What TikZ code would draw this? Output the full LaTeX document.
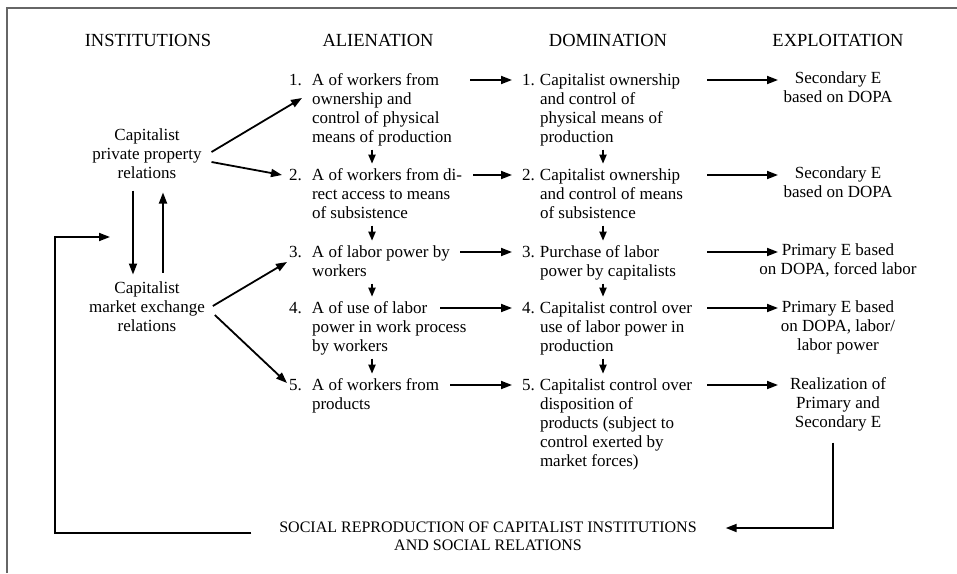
\documentclass[tikz,border=0pt]{standalone}
\usepackage{fontspec}
\setmainfont{Liberation Serif}
\usetikzlibrary{arrows.meta,calc}
\newcommand{\nA}[1]{\makebox[23pt][l]{#1}}
\newcommand{\nD}[1]{\makebox[18pt][l]{#1}}
\newenvironment{aitem}{\begin{tabular}[t]{@{}l@{}l@{}}}{\end{tabular}}
\newenvironment{ditem}{\begin{tabular}[t]{@{}l@{}p{157pt}@{}}}{\end{tabular}}
\newenvironment{ctext}{\begin{tabular}{@{}c@{}}}{\end{tabular}}
\begin{document}
\begin{tikzpicture}[x=1pt,y=-1pt,
  every node/.style={inner sep=0pt,outer sep=0pt},
  body/.style={font=\fontsize{17}{19}\selectfont},
  head/.style={font=\fontsize{18.5}{21}\selectfont,anchor=base},
  anode/.style={body,anchor=base west},
  dnode/.style={body,anchor=base west,outer xsep=10pt},
  enode/.style={body},
  srnode/.style={font=\fontsize{16}{18}\selectfont},
  arr/.style={line width=1.8pt,-{Triangle[length=11pt,width=8pt]}},
  varr/.style={line width=1.8pt,-{Triangle[length=9pt,width=7pt]},shorten <=2pt,shorten >=3pt},
  frame/.style={line width=1.2pt,black!60}]
\useasboundingbox (0,0) rectangle (957,573);
\fill[white] (0,0) rectangle (957,573);
\draw[frame] (7,573) -- (7,8) -- (957,8);

% column helpers
\coordinate (colA) at (372,0);
\coordinate (colD) at (603,0);
\coordinate (colE) at (778,0);

% headers
\node[head] (hI) at (148,46) {INSTITUTIONS};
\node[head] (hA) at (378,46) {ALIENATION};
\node[head] (hD) at (608,46) {DOMINATION};
\node[head] (hE) at (838,46) {EXPLOITATION};

% institutions
\node[body] (pp) at (147,156) {\begin{ctext}Capitalist\\private property\\relations\end{ctext}};
\node[body] (me) at (147,309) {\begin{ctext}Capitalist\\market exchange\\relations\end{ctext}};

% alienation
\node[anode] (a1) at (289,85) {\begin{aitem}\nA{1.}&A of workers from\\&ownership and\\&control of physical\\&means of production\end{aitem}};
\node[anode] (a2) at (289,180) {\begin{aitem}\nA{2.}&A of workers from di-\\&rect access to means\\&of subsistence\end{aitem}};
\node[anode] (a3) at (289,257) {\begin{aitem}\nA{3.}&A of labor power by\\&workers\end{aitem}};
\node[anode] (a4) at (289,313) {\begin{aitem}\nA{4.}&A of use of labor\\&power in work process\\&by workers\end{aitem}};
\node[anode] (a5) at (289,390) {\begin{aitem}\nA{5.}&A of workers from\\&products\end{aitem}};

% domination
\node[dnode] (d1) at (512,85) {\begin{ditem}\nD{1.}&Capitalist ownership\\&and control of\\&physical means of\\&production\end{ditem}};
\node[dnode] (d2) at (512,180) {\begin{ditem}\nD{2.}&Capitalist ownership\\&and control of means\\&of subsistence\end{ditem}};
\node[dnode] (d3) at (512,257) {\begin{ditem}\nD{3.}&Purchase of labor\\&power by capitalists\end{ditem}};
\node[dnode] (d4) at (512,313) {\begin{ditem}\nD{4.}&Capitalist control over\\&use of labor power in\\&production\end{ditem}};
\node[dnode] (d5) at (512,390) {\begin{ditem}\nD{5.}&Capitalist control over\\&disposition of\\&products (subject to\\&control exerted by\\&market forces)\end{ditem}};

% exploitation
\node[enode] (e1) at (838,89) {\begin{ctext}Secondary E\\based on DOPA\end{ctext}};
\node[enode] (e2) at (838,184) {\begin{ctext}Secondary E\\based on DOPA\end{ctext}};
\node[enode] (e3) at (838,261) {\begin{ctext}Primary E based\\on DOPA, forced labor\end{ctext}};
\node[enode] (e4) at (838,327.5) {\begin{ctext}Primary E based\\on DOPA, labor/\\labor power\end{ctext}};
\node[enode] (e5) at (838,405) {\begin{ctext}Realization of\\Primary and\\Secondary E\end{ctext}};

% social reproduction
\node[srnode] (sr) at (488,538) {\begin{ctext}SOCIAL REPRODUCTION OF CAPITALIST INSTITUTIONS\\AND SOCIAL RELATIONS\end{ctext}};

% institutions -> alienation
\draw[arr] ($(pp.east)+(10,-4)$) -- ($(a1.base west)+(13,13)$);
\draw[arr] ($(pp.east)+(10,6)$) -- ($(a2.base west)+(-7,-5)$);
\draw[arr] ($(me.east)+(8,-3)$) -- ($(a3.base west)+(-2,5)$);
\draw[arr] ($(me.east)+(10,6)$) -- ($(a5.base west)+(-2,-7)$);

% between institutions
\draw[arr] ($(pp.south)+(-14,6)$) -- ($(me.north)+(-14,-6)$);
\draw[arr] ($(me.north)+(16,-8)$) -- ($(pp.south)+(16,8)$);

% alienation verticals
\draw[varr] (a1.south -| colA) -- (a2.north -| colA);
\draw[varr] (a2.south -| colA) -- (a3.north -| colA);
\draw[varr] (a3.south -| colA) -- (a4.north -| colA);
\draw[varr] (a4.south -| colA) -- (a5.north -| colA);

% domination verticals
\draw[varr] (d1.south -| colD) -- (d2.north -| colD);
\draw[varr] (d2.south -| colD) -- (d3.north -| colD);
\draw[varr] (d3.south -| colD) -- (d4.north -| colD);
\draw[varr] (d4.south -| colD) -- (d5.north -| colD);

% alienation -> domination
\draw[arr] ($(a1.base west)+(181,-5)$) coordinate (s1) -- (s1 -| d1.west);
\draw[arr] ($(a2.base west)+(184,-5)$) coordinate (s2) -- (s2 -| d2.west);
\draw[arr] ($(a3.base west)+(171,-5)$) coordinate (s3) -- (s3 -| d3.west);
\draw[arr] ($(a4.base west)+(151,-5)$) coordinate (s4) -- (s4 -| d4.west);
\draw[arr] ($(a5.base west)+(161,-5)$) coordinate (s5) -- (s5 -| d5.west);

% domination -> exploitation
\draw[arr] ($(d1.base east)+(0,-5)$) coordinate (t1) -- (t1 -| colE);
\draw[arr] ($(d2.base east)+(0,-5)$) coordinate (t2) -- (t2 -| colE);
\draw[arr] ($(d3.base east)+(0,-5)$) coordinate (t3) -- (t3 -| colE);
\draw[arr] ($(d4.base east)+(0,-5)$) coordinate (t4) -- (t4 -| colE);
\draw[arr] ($(d5.base east)+(0,-5)$) coordinate (t5) -- (t5 -| colE);

% feedback loops
\coordinate (fbc) at (55,237);
\coordinate (fbt) at (110,237);
\draw[arr] ($(sr.west)+(-28,-5)$) -| (fbc) -- (fbt);
\draw[arr] ($(e5.south)+(-5,9)$) |- ($(sr.east)+(29,-10)$);
\end{tikzpicture}
\end{document}
